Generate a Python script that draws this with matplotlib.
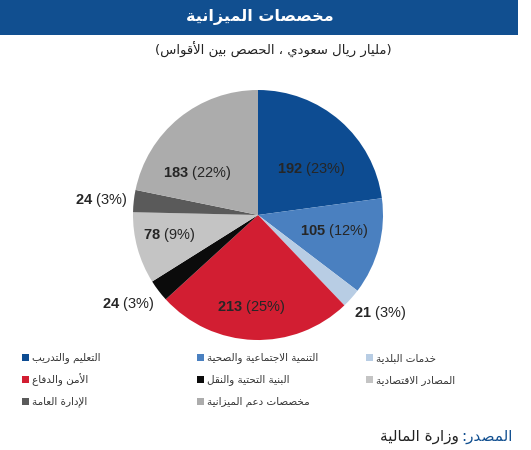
import matplotlib
matplotlib.use('Agg')
import matplotlib.pyplot as plt
from matplotlib.patches import Rectangle
import numpy as np

# data
values = [192, 105, 21, 213, 24, 78, 24, 183]
shares = [23, 12, 3, 25, 3, 9, 3, 22]
names = ['التعليم والتدريب', 'التنمية الاجتماعية والصحية', 'خدمات البلدية',
         'الأمن والدفاع', 'البنية التحتية والنقل', 'المصادر الاقتصادية',
         'الإدارة العامة', 'مخصصات دعم الميزانية']
colors = ['#0D4C92', '#4A80C0', '#B8CDE4', '#D21E32', '#0B0B0B', '#C4C4C4', '#5A5A5A', '#ACACAC']
# legend order (columns right to left in reading, drawn left to right)
legend_cols = [[0, 3, 6], [1, 4, 7], [2, 5]]

title = 'مخصصات الميزانية'
subtitle = '(مليار ريال سعودي ، الحصص بين الأقواس)'
source_head = 'المصدر:'
source_body = 'وزارة المالية'

# minimal arabic shaping (matplotlib draws glyphs left to right, no joining)
AR_FORMS = {
    '\u0621': (0xFE80, 1), '\u0622': (0xFE81, 2), '\u0623': (0xFE83, 2),
    '\u0624': (0xFE85, 2), '\u0625': (0xFE87, 2), '\u0626': (0xFE89, 4),
    '\u0627': (0xFE8D, 2), '\u0628': (0xFE8F, 4), '\u0629': (0xFE93, 2),
    '\u062A': (0xFE95, 4), '\u062B': (0xFE99, 4), '\u062C': (0xFE9D, 4),
    '\u062D': (0xFEA1, 4), '\u062E': (0xFEA5, 4), '\u062F': (0xFEA9, 2),
    '\u0630': (0xFEAB, 2), '\u0631': (0xFEAD, 2), '\u0632': (0xFEAF, 2),
    '\u0633': (0xFEB1, 4), '\u0634': (0xFEB5, 4), '\u0635': (0xFEB9, 4),
    '\u0636': (0xFEBD, 4), '\u0637': (0xFEC1, 4), '\u0638': (0xFEC5, 4),
    '\u0639': (0xFEC9, 4), '\u063A': (0xFECD, 4), '\u0641': (0xFED1, 4),
    '\u0642': (0xFED5, 4), '\u0643': (0xFED9, 4), '\u0644': (0xFEDD, 4),
    '\u0645': (0xFEE1, 4), '\u0646': (0xFEE5, 4), '\u0647': (0xFEE9, 4),
    '\u0648': (0xFEED, 2), '\u0649': (0xFEEF, 2), '\u064A': (0xFEF1, 4),
}
LAM_ALEF = {'\u0622': 0xFEF5, '\u0623': 0xFEF7, '\u0625': 0xFEF9, '\u0627': 0xFEFB}
MIRROR = {'(': ')', ')': '('}


def ar(text):
    units = []
    i = 0
    while i < len(text):
        c = text[i]
        if c == '\u0644' and i + 1 < len(text) and text[i + 1] in LAM_ALEF:
            units.append((LAM_ALEF[text[i + 1]], 2))
            i += 2
        elif c in AR_FORMS:
            units.append(AR_FORMS[c])
            i += 1
        else:
            units.append(c)
            i += 1
    out = []
    for k, u in enumerate(units):
        if isinstance(u, str):
            out.append(MIRROR.get(u, u))
            continue
        base, n = u
        prev = units[k - 1] if k > 0 else None
        nxt = units[k + 1] if k + 1 < len(units) else None
        jp = isinstance(prev, tuple) and prev[1] == 4
        jn = n == 4 and isinstance(nxt, tuple) and nxt[1] >= 2
        if n == 1:
            off = 0
        elif jp and jn:
            off = 3
        elif jn:
            off = 2
        elif jp:
            off = 1
        else:
            off = 0
        out.append(chr(base + off))
    return ''.join(out[::-1])


plt.rcParams['font.family'] = ['Liberation Sans', 'DejaVu Sans']
plt.rcParams['mathtext.fontset'] = 'custom'
plt.rcParams['mathtext.rm'] = 'Liberation Sans'
plt.rcParams['mathtext.bf'] = 'Liberation Sans:bold'

W, H = 531, 450
fig = plt.figure(figsize=(W / 100, H / 100), dpi=100)

# overlay in pixel coordinates for title bar, legend and source
ov = fig.add_axes([0, 0, 1, 1])
ov.set_xlim(0, W)
ov.set_ylim(H, 0)
ov.axis('off')

blue = '#114F90'
ov.add_patch(Rectangle((0, 0), 518, 35, color=blue, lw=0))
ov.text(260, 17, ar(title), color='white', fontsize=11.5, fontweight='bold',
        ha='center', va='center', family='DejaVu Sans')
ov.text(273, 50, ar(subtitle), color='#222222', fontsize=9.5,
        ha='center', va='center', family='DejaVu Sans')

# legend
col_x = [22, 197, 366]
row_y = [357, 379, 401]
for ci, col in enumerate(legend_cols):
    for ri, idx in enumerate(col):
        ov.add_patch(Rectangle((col_x[ci], row_y[ri] - 3.5), 7, 7, color=colors[idx], lw=0))
        ov.text(col_x[ci] + 10, row_y[ri] + 1, ar(names[idx]), fontsize=7.5, color='#333333',
                ha='left', va='center', family='DejaVu Sans')

# source line
t1 = ov.text(513, 437, ar(source_head), color=blue, fontsize=11,
             ha='right', va='center', family='DejaVu Sans')
fig.canvas.draw()
bb = t1.get_window_extent()
x0 = ov.transData.inverted().transform((bb.x0, bb.y0))[0]
ov.text(x0 - 3, 437, ar(source_body), color='#222222', fontsize=11,
        ha='right', va='center', family='DejaVu Sans')

# pie
cx, cy, r = 258, 215, 125
ax = fig.add_axes([(cx - r) / W, 1 - (cy + r) / H, 2 * r / W, 2 * r / H])
wedges, _ = ax.pie(values, colors=colors, startangle=90, counterclock=False,
                   radius=1, wedgeprops=dict(linewidth=0))
ax.set_xlim(-1, 1)
ax.set_ylim(-1, 1)
ax.set_aspect('equal')
ax.axis('off')

label_dist = [0.56, 0.62, 1.25, 0.74, 1.26, 0.73, 1.26, 0.59]
label_turn = [-8, 3, 3, -2, -3, -3, 1, 16]
for w, v, s, d, t in zip(wedges, values, shares, label_dist, label_turn):
    ang = np.deg2rad((w.theta1 + w.theta2) / 2 + t)
    ax.text(d * np.cos(ang), d * np.sin(ang), r'$\mathbf{%d}$ (%d%%)' % (v, s),
            ha='center', va='center', fontsize=10.5, color='#262626')

fig.savefig('out.png', dpi=100)
